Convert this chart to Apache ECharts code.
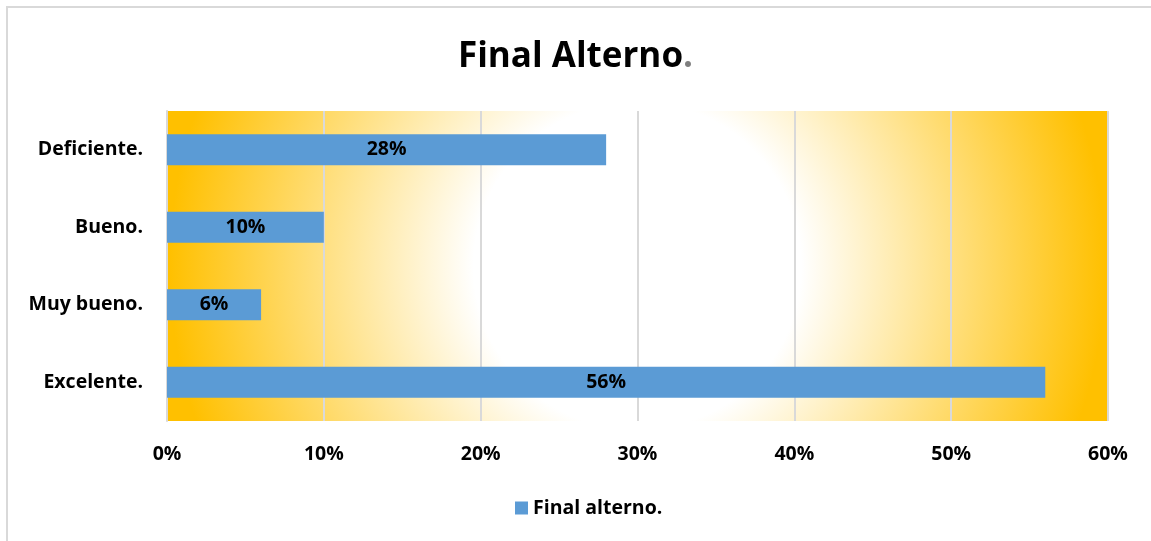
<!DOCTYPE html>
<html>
<head>
<meta charset="utf-8">
<script src="https://cdn.jsdelivr.net/npm/echarts@6/dist/echarts.min.js"></script>
<style>
html,body{margin:0;padding:0;background:#fff;}
#c{width:1151px;height:541px;}
</style>
</head>
<body>
<div id="c"></div>
<script>
const categories = ['Excelente.', 'Muy bueno.', 'Bueno.', 'Deficiente.'];
const values = [56, 6, 10, 28];
const seriesName = 'Final alterno.';
const xTicks = [0, 10, 20, 30, 40, 50, 60];

const FONT = '"Open Sans", Lato, sans-serif';
const FS = 19.5;
const chart = echarts.init(document.getElementById('c'));
chart.setOption({
  animation: false,
  backgroundColor: '#fff',
  title: {
    text: '{a|Final Alterno}{b|.}',
    left: 'center',
    top: 35,
    textStyle: {
      rich: {
        a: { fontFamily: FONT, fontWeight: 'bold', fontSize: 35, color: '#000' },
        b: { fontFamily: FONT, fontWeight: 'bold', fontSize: 35, color: '#7f7f7f' }
      }
    }
  },
  graphic: [{
    type: 'rect',
    shape: { x: 7, y: 7, width: 1160, height: 560 },
    style: { fill: 'none', stroke: '#d9d9d9', lineWidth: 2 },
    silent: true, z: -1
  }],
  legend: {
    bottom: 18,
    left: 510,
    itemWidth: 13,
    itemHeight: 13,
    itemGap: 6,
    icon: 'rect',
    textStyle: { fontFamily: FONT, fontWeight: 'bold', fontSize: FS, color: '#000' },
    data: [seriesName]
  },
  grid: {
    left: 167, right: 43, top: 111, bottom: 120,
    show: true,
    borderWidth: 0,
    backgroundColor: {
      type: 'radial', x: 0.5, y: 0.5, r: 1.51,
      colorStops: [
        { offset: 0, color: '#ffffff' },
        { offset: 0.35, color: '#ffffff' },
        { offset: 1, color: '#ffc000' }
      ]
    }
  },
  xAxis: {
    type: 'value',
    min: xTicks[0], max: xTicks[xTicks.length - 1], interval: 10,
    axisLine: { show: false },
    axisTick: { show: false },
    splitLine: { show: true, lineStyle: { color: '#d9d9d9', width: 2 } },
    axisLabel: {
      margin: 23,
      formatter: v => v + '%',
      fontFamily: FONT, fontWeight: 'bold', fontSize: FS, color: '#000'
    }
  },
  yAxis: {
    type: 'category',
    data: categories,
    axisLine: { show: true, lineStyle: { color: '#d9d9d9', width: 2 } },
    axisTick: { show: false },
    axisLabel: {
      margin: 24,
      fontFamily: FONT, fontWeight: 'bold', fontSize: FS, color: '#000'
    }
  },
  series: [{
    name: seriesName,
    type: 'bar',
    data: values,
    barWidth: '40%',
    itemStyle: { color: '#5b9bd5' },
    label: {
      show: true,
      position: 'inside',
      formatter: p => p.value + '%',
      fontFamily: FONT, fontWeight: 'bold', fontSize: FS, color: '#000'
    }
  }]
});
</script>
</body>
</html>
